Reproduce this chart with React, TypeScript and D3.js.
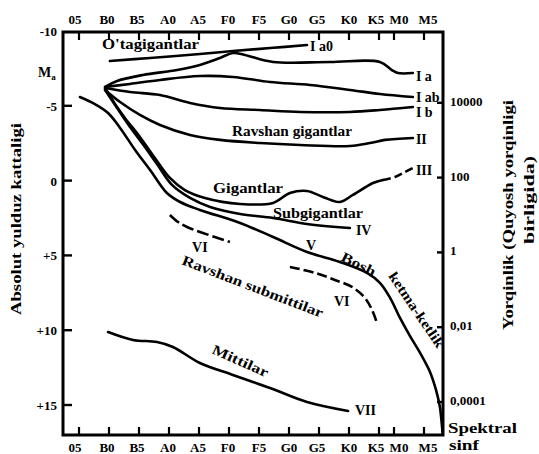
import React from 'react';
import * as d3 from 'd3';

const W = 539;
const H = 454;

// spectral classes (top and bottom axis)
const spectralClasses = ['05', 'B0', 'B5', 'A0', 'A5', 'F0', 'F5', 'G0', 'G5', 'K0', 'K5', 'M0', 'M5'];
const spectralIndex = [0, 1, 2, 3, 4, 5, 6, 7, 8, 9, 10, 10.5, 11.5];

// absolute magnitude ticks (left axis)
const magTicks = [-10, -5, 0, 5, 10, 15];
const magTickLabels = ['-10', '-5', '0', '+5', '+10', '+15'];

// luminosity ticks (right axis), log10(L / Lsun)
const lumLogTicks = [4, 2, 0, -2, -4];
const lumTickLabels = ['10000', '100', '1', '0,01', '0,0001'];
const sunAbsMag = 4.8;

// luminosity classes: [spectral index, absolute magnitude]
const ia0: [number, number][] = [[1.03, -7.99], [2.37, -8.2], [4.03, -8.46], [5.13, -8.66], [6.37, -8.86], [7.6, -9.06]];
const ia: [number, number][] = [[0.87, -6.26], [1.27, -6.66], [2.13, -7.06], [3.27, -7.39], [4.03, -7.73], [4.7, -8.2], [5.13, -8.53], [5.53, -8.4], [6.47, -7.93], [8.37, -7.93], [10.03, -7.93], [10.43, -7.39], [10.63, -7.19], [11.13, -7.19]];
const iab: [number, number][] = [[0.87, -6.26], [1.7, -6.46], [2.7, -6.73], [4.03, -6.99], [5.13, -6.93], [6.37, -6.59], [7.7, -6.39], [9.03, -6.06], [10.03, -5.79], [11.13, -5.59]];
const ib: [number, number][] = [[0.87, -6.19], [1.7, -5.92], [2.7, -5.72], [3.7, -5.19], [4.7, -4.85], [6.03, -4.72], [7.37, -4.59], [9.03, -4.59], [10.03, -4.72], [11.13, -4.92]];
const ii: [number, number][] = [[0.87, -6.06], [1.37, -5.25], [2.03, -4.39], [2.7, -3.72], [3.7, -3.05], [4.7, -2.72], [6.03, -2.51], [7.37, -2.38], [9.03, -2.31], [9.7, -2.51], [10.2, -2.72], [11.13, -2.85]];
const iii: [number, number][] = [[0.87, -6.19], [1.2, -5.12], [1.53, -4.19], [2.03, -2.92], [2.53, -1.51], [3.03, -0.18], [3.53, 0.63], [4.2, 1.16], [5.37, 1.56], [6.47, 1.49], [7.03, 0.83], [7.6, 0.69], [8.13, 1.09], [8.7, 1.43], [9.13, 0.96], [9.8, 0.16], [10.13, -0.04]];
const iiiDashed: [number, number][] = [[10.13, -0.04], [10.53, -0.24], [10.87, -0.58], [11.13, -0.84]];
const iv: [number, number][] = [[0.87, -6.06], [1.27, -4.85], [1.63, -3.78], [2.1, -2.51], [2.6, -1.11], [3.1, 0.29], [3.7, 1.16], [4.37, 1.76], [5.37, 2.23], [6.47, 2.5], [7.6, 2.9], [9.03, 3.17]];
const v: [number, number][] = [[0.03, -5.59], [0.53, -5.12], [0.97, -4.52], [1.37, -3.52], [1.87, -2.05], [2.37, -0.71], [2.93, 0.83], [3.37, 1.43], [4.03, 1.96], [5.37, 2.83], [6.47, 3.77], [7.6, 4.77], [8.7, 5.44], [9.6, 6.17], [10.03, 6.84], [10.37, 7.84], [10.7, 9.18], [11.03, 10.38], [11.37, 11.52], [11.7, 12.79], [11.9, 13.99], [12.03, 15.13], [12.08, 16.0], [12.12, 16.87]];
const viA: [number, number][] = [[3.03, 2.3], [3.3, 2.77], [3.6, 3.1], [4.13, 3.5], [5.03, 4.1]];
const viB: [number, number][] = [[7.03, 5.77], [7.87, 6.17], [8.53, 6.64], [9.1, 7.11], [9.53, 7.84], [9.77, 8.65], [9.93, 9.51]];
const vii: [number, number][] = [[0.97, 10.12], [1.8, 10.65], [2.6, 10.79], [3.13, 11.12], [4.03, 12.19], [5.13, 12.99], [6.37, 13.86], [7.6, 14.8], [8.97, 15.4]];

// class labels at line ends: [text, spectral index, magnitude]
const classLabels: [string, number, number][] = [
  ['I a0', 7.7, -8.66],
  ['I a', 11.23, -6.66],
  ['I ab', 11.23, -5.25],
  ['I b', 11.23, -4.25],
  ['II', 11.23, -2.45],
  ['III', 11.23, -0.38],
  ['IV', 9.23, 3.63],
  ['V', 7.57, 4.64],
  ['VI', 3.77, 4.77],
  ['VI', 8.5, 8.38],
  ['VII', 9.2, 15.66],
];

const FONT = '"Liberation Serif", "DejaVu Serif", serif';
// small horizontal nudges of the spectral labels, as printed
const labelNudge = [-4, -2, -2, -1, -1, -1, 0, 0, -2, 0, -3, 5, 4];

export default function App() {
  const left = 63, right = 443, top = 32, bottom = 435;
  const x = d3.scaleLinear().domain([0, 11.5]).range([79, 424]);
  const y = d3.scaleLinear().domain([-10, 15]).range([31, 405]);
  const line = d3.line<[number, number]>()
    .x(d => x(d[0]))
    .y(d => y(d[1]))
    .curve(d3.curveCatmullRom.alpha(0.5));

  const solid = [ia0, ia, iab, ib, ii, iii, iv, v, vii];
  const lineStyle = { fill: 'none', stroke: '#000', strokeWidth: 2.6, strokeLinecap: 'round' as const, strokeLinejoin: 'round' as const };

  return (
    <svg width={W} height={H} style={{ position: 'absolute', left: 0, top: 0, background: '#fff' }} fontFamily={FONT} fontWeight="bold">
      <rect x={0} y={0} width={W} height={H} fill="#fff" />
      {/* frame */}
      <rect x={left} y={top} width={right - left} height={bottom - top} fill="none" stroke="#000" strokeWidth={3} />

      {/* top and bottom spectral ticks */}
      {spectralIndex.map((s, i) => (
        <g key={'t' + i}>
          <line x1={x(s)} x2={x(s)} y1={top} y2={top + 8} stroke="#000" strokeWidth={2.2} />
          <line x1={x(s)} x2={x(s)} y1={bottom} y2={bottom - 8} stroke="#000" strokeWidth={2.2} />
          <text x={x(s) + labelNudge[i]} y={24} textAnchor="middle" fontSize={13}>{spectralClasses[i]}</text>
          <text x={x(s) + labelNudge[i]} y={452} textAnchor="middle" fontSize={13}>{spectralClasses[i]}</text>
        </g>
      ))}

      {/* left magnitude axis */}
      {magTicks.map((m, i) => (
        <g key={'m' + i}>
          {m > -10 && <line x1={left} x2={left + 9} y1={y(m)} y2={y(m)} stroke="#000" strokeWidth={2.4} />}
          <text x={57} y={y(m) + 5} textAnchor="end" fontSize={13}>{magTickLabels[i]}</text>
        </g>
      ))}
      <text x={38} y={77} fontSize={14}>M<tspan fontSize={9} dy={3}>a</tspan></text>

      {/* right luminosity axis */}
      {lumLogTicks.map((l, i) => {
        const yy = y(sunAbsMag - 2.5 * l);
        return (
          <g key={'l' + i}>
            <line x1={right - 6} x2={right} y1={yy} y2={yy} stroke="#000" strokeWidth={2.4} />
            <text x={450} y={yy + 3} fontSize={13}>{lumTickLabels[i]}</text>
          </g>
        );
      })}
      <text x={448} y={433} fontSize={14} textLength={69} lengthAdjust="spacingAndGlyphs">Spektral</text>
      <text x={449} y={450} fontSize={14} textLength={30} lengthAdjust="spacingAndGlyphs">sinf</text>

      {/* axis titles */}
      <text transform="translate(21,219) rotate(-90)" textAnchor="middle" fontSize={14} textLength={192} lengthAdjust="spacingAndGlyphs">Absolut yulduz kattaligi</text>
      <text transform="translate(513,215) rotate(-90)" textAnchor="middle" fontSize={14} textLength={230} lengthAdjust="spacingAndGlyphs">Yorqinlik (Quyosh yorqinligi</text>
      <text transform="translate(534,200) rotate(-90)" textAnchor="middle" fontSize={14} textLength={88} lengthAdjust="spacingAndGlyphs">birligida)</text>

      {/* curves */}
      {solid.map((d, i) => <path key={'c' + i} d={line(d) || ''} {...lineStyle} />)}
      <path d={line(iiiDashed) || ''} {...lineStyle} strokeDasharray="8 4" strokeLinecap="butt" />
      <path d={line(viA) || ''} {...lineStyle} strokeDasharray="12 4" strokeLinecap="butt" />
      <path d={line(viB) || ''} {...lineStyle} strokeDasharray="10 4" strokeLinecap="butt" />

      {/* class labels */}
      {classLabels.map(([t, s, m], i) => (
        <text key={'cl' + i} x={x(s)} y={y(m)} fontSize={14}>{t}</text>
      ))}

      {/* region labels */}
      <text x={102} y={49} fontSize={14} textLength={97} lengthAdjust="spacingAndGlyphs">O'tagigantlar</text>
      <text x={232} y={136} fontSize={14} textLength={120} lengthAdjust="spacingAndGlyphs">Ravshan gigantlar</text>
      <text x={213} y={193} fontSize={14} textLength={70} lengthAdjust="spacingAndGlyphs">Gigantlar</text>
      <text x={273} y={218} fontSize={14} textLength={90} lengthAdjust="spacingAndGlyphs">Subgigantlar</text>
      <text transform="translate(340,260) rotate(27)" fontSize={14} textLength={37} lengthAdjust="spacingAndGlyphs">Bosh</text>
      <text transform="translate(388,276) rotate(56)" fontSize={14} textLength={88} lengthAdjust="spacingAndGlyphs">ketma-ketlik</text>
      <text transform="translate(181,264) rotate(21)" fontSize={14} textLength={150} lengthAdjust="spacingAndGlyphs">Ravshan submittilar</text>
      <text transform="translate(211,353) rotate(24)" fontSize={14} textLength={60} lengthAdjust="spacingAndGlyphs">Mittilar</text>
    </svg>
  );
}
